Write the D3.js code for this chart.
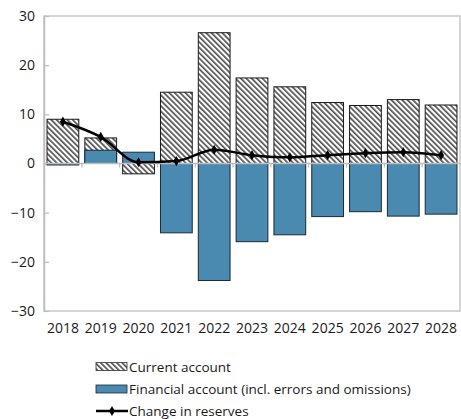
<!DOCTYPE html>
<html><head><meta charset="utf-8">
<script src="https://cdn.jsdelivr.net/npm/d3@7"></script>
<style>body{margin:0;background:#fff;} svg{display:block;font-family:"Open Sans",sans-serif;}</style>
</head><body><svg id="c" width="461" height="419"></svg>
<script>
const years = ["2018","2019","2020","2021","2022","2023","2024","2025","2026","2027","2028"];
const currentAccount = [9.0, 5.2, -2.1, 14.5, 26.6, 17.4, 15.6, 12.4, 11.8, 13.0, 11.9];
const financialAccount = [-0.3, 2.7, 2.3, -14.1, -23.8, -15.9, -14.5, -10.8, -9.8, -10.7, -10.3];
const reserves = [8.5, 5.4, 0.25, 0.5, 2.8, 1.7, 1.25, 1.7, 2.1, 2.3, 1.7];
const yTicks = [-30, -20, -10, 0, 10, 20, 30];
const legendLabels = ["Current account", "Financial account (incl. errors and omissions)", "Change in reserves"];

const svg = d3.select("#c");
const L = 44, R = 460, T = 16, B = 311;
const x = d3.scaleBand().domain(years).range([L, R]).paddingInner(0.16).paddingOuter(0.08);
const xb = d3.scaleBand().domain(years).range([L, R]);
const y = d3.scaleLinear().domain([-30, 30]).range([B, T]);

const defs = svg.append("defs");
const pat = defs.append("pattern").attr("id","hatch").attr("patternUnits","userSpaceOnUse")
  .attr("width",3.8).attr("height",3.8).attr("patternTransform","rotate(-45)");
pat.append("rect").attr("width",3.8).attr("height",3.8).attr("fill","#fff");
pat.append("rect").attr("x",0).attr("width",1.7).attr("height",3.8).attr("fill","#555");

// frame
svg.append("rect").attr("x",L).attr("y",T).attr("width",R-L).attr("height",B-T)
  .attr("fill","none").attr("stroke","#c8c8c8").attr("stroke-width",1.5);

// y axis
const yAxis = d3.axisLeft(y).tickValues(yTicks).tickSize(0).tickPadding(9);
const gy = svg.append("g").attr("transform",`translate(${L},0)`).call(yAxis);
gy.select(".domain").attr("stroke","#bdbdbd").attr("stroke-width",1.5);
gy.selectAll("text").attr("font-size",14).attr("fill","#1a1a1a").attr("font-family","Open Sans");
gy.selectAll(".tick").append("line").attr("x1",0).attr("x2",5).attr("stroke","#bdbdbd").attr("stroke-width",1.2);

// bars CA
svg.append("g").selectAll("rect").data(years).join("rect")
  .attr("x", d => x(d)).attr("width", x.bandwidth())
  .attr("y", (d,i) => y(Math.max(0,currentAccount[i])))
  .attr("height", (d,i) => Math.abs(y(currentAccount[i]) - y(0)))
  .attr("fill","url(#hatch)").attr("stroke","#1a1a1a").attr("stroke-width",1);
// bars FA
svg.append("g").selectAll("rect").data(years).join("rect")
  .attr("x", d => x(d)).attr("width", x.bandwidth())
  .attr("y", (d,i) => y(Math.max(0,financialAccount[i])))
  .attr("height", (d,i) => Math.abs(y(financialAccount[i]) - y(0)))
  .attr("fill","#4a89b0").attr("stroke","#1a2a33").attr("stroke-width",1);

// zero axis
svg.append("line").attr("x1",L).attr("x2",R).attr("y1",y(0)).attr("y2",y(0)).attr("stroke","#bdbdbd").attr("stroke-width",1.5);
svg.append("g").selectAll("line").data(years.slice(1)).join("line")
  .attr("x1", d => xb(d)).attr("x2", d => xb(d)).attr("y1", y(0)).attr("y2", y(0)+4)
  .attr("stroke","#bdbdbd").attr("stroke-width",1.2);

// x labels
const gxl = svg.append("g").attr("transform",`translate(0,${B})`)
  .call(d3.axisBottom(xb).tickSize(0).tickPadding(12));
gxl.select(".domain").remove();
gxl.selectAll("text").attr("font-size",14).attr("fill","#1a1a1a").attr("font-family","Open Sans");

// line
const line = d3.line().x((d,i) => xb(years[i]) + xb.bandwidth()/2).y(d => y(d)).curve(d3.curveMonotoneX);
svg.append("path").datum(reserves).attr("d", line).attr("fill","none").attr("stroke","#000").attr("stroke-width",2.5);
svg.append("g").selectAll("path").data(reserves).join("path")
  .attr("transform",(d,i) => `translate(${xb(years[i]) + xb.bandwidth()/2},${y(d)})`)
  .attr("d", d3.symbol().type(d3.symbolDiamond).size(30)).attr("fill","#000");

// legend
const lg = svg.append("g");
const ly = [366.5, 389, 411];
lg.append("rect").attr("x",96).attr("y",ly[0]-4).attr("width",31).attr("height",8)
  .attr("fill","url(#hatch)").attr("stroke","#333").attr("stroke-width",0.8);
lg.append("rect").attr("x",96).attr("y",ly[1]-4).attr("width",31).attr("height",8)
  .attr("fill","#4a89b0").attr("stroke","#1a2a33").attr("stroke-width",0.8);
lg.append("line").attr("x1",96).attr("x2",128).attr("y1",ly[2]).attr("y2",ly[2]).attr("stroke","#000").attr("stroke-width",2.5);
lg.append("path").attr("transform",`translate(112,${ly[2]})`).attr("d", d3.symbol().type(d3.symbolDiamond).size(30)).attr("fill","#000");
lg.selectAll("text").data(legendLabels).join("text")
  .attr("x",129).attr("y",(d,i) => ly[i]+5).attr("font-size",13.5).attr("fill","#1a1a1a").attr("font-family","Open Sans")
  .text(d => d);
</script></body></html>
